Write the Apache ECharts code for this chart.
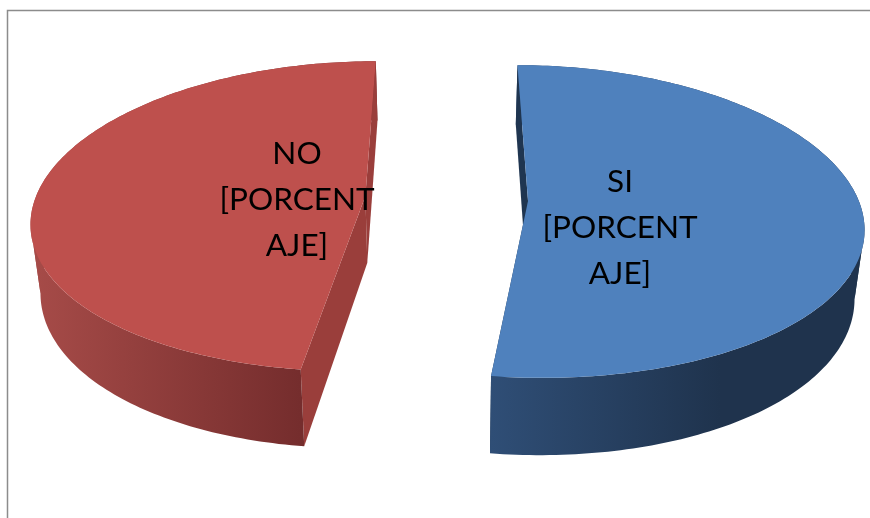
<!DOCTYPE html>
<html>
<head>
<meta charset="utf-8">
<style>html,body{margin:0;padding:0;background:#fff}#c{width:870px;height:518px}</style>
<script src="https://cdn.jsdelivr.net/npm/echarts@6/dist/echarts.min.js"></script>
</head>
<body>
<div id="c"></div>
<script>
const categories = ['SI', 'NO'];
const values = [52.1, 47.9];
const labels = ['SI\n[PORCENT\nAJE]', 'NO\n[PORCENT\nAJE]'];

const topColors = ['#4F81BD', '#BE504D'];
const cutColors = ['#1F3550', '#9A3E3B'];
const wallStops = [['#2F4E76', '#1F334D'], ['#A64B48', '#752D2D']];
const wallRange = [[491, 720], [35, 300]];
const labelAt = [[620, 228], [297, 200]];

// 3D pie projection
const cx = 446.5, cy = 198.5, Rx = 330, Ry = 153, perspX = 0.148, perspY = 0.131, explode = 81.5, depth = 67, shrink = 0.976;
const total = values.reduce((a, b) => a + b, 0);

function project(X, V, low) {
  const fx = 1 / (1 + perspX * V), fy = 1 / (1 + perspY * V);
  return [cx + X * fx * (low ? shrink : 1), cy - Ry * V * fy + (low ? depth * fy : 0)];
}

const chart = echarts.init(document.getElementById('c'), null, { renderer: 'canvas' });

function renderItem(params, api) {
  const i = params.dataIndex;
  let before = 0;
  for (let k = 0; k < i; k++) before += values[k];
  const a0 = before / total * 2 * Math.PI;
  const a1 = (before + api.value(1)) / total * 2 * Math.PI;
  const mid = (a0 + a1) / 2;
  const Xa = explode * Math.sin(mid), Va = explode * Math.cos(mid) / Rx;
  const rim = low => {
    const out = [];
    const n = Math.ceil((a1 - a0) / (Math.PI / 180));
    for (let s = 0; s <= n; s++) {
      const t = a0 + (a1 - a0) * s / n;
      out.push(project(Xa + Rx * Math.sin(t), Va + Math.cos(t), low));
    }
    return out;
  };
  const topRim = rim(false), lowRim = rim(true);
  const apex = project(Xa, Va, false), apexLow = project(Xa, Va, true);
  const last = topRim.length - 1;
  // the wall is split at the widest point of the rim so that its front and back do not cancel out
  let side = 0;
  topRim.forEach((p, k) => { if (Math.abs(p[0] - cx) > Math.abs(topRim[side][0] - cx)) side = k; });
  const strip = (from, to) => topRim.slice(from, to + 1).concat(lowRim.slice(from, to + 1).reverse());
  const poly = (points, fill) => ({ type: 'polygon', shape: { points }, style: { fill }, silent: true });
  const grad = new echarts.graphic.LinearGradient(wallRange[i][0], 0, wallRange[i][1], 0,
    [{ offset: 0, color: wallStops[i][0] }, { offset: 1, color: wallStops[i][1] }], true);
  const startIsBack = topRim[0][1] < topRim[last][1];
  const backStrip = startIsBack ? strip(0, side) : strip(side, last);
  const frontStrip = startIsBack ? strip(side, last) : strip(0, side);
  return {
    type: 'group',
    children: [
      poly(backStrip, grad),
      poly([apex, topRim[0], lowRim[0], apexLow], cutColors[i]),
      poly([apex, topRim[last], lowRim[last], apexLow], cutColors[i]),
      poly(frontStrip, grad),
      poly([apex].concat(topRim), topColors[i]),
      {
        type: 'text',
        z2: 10,
        style: {
          text: labels[i], x: labelAt[i][0], y: labelAt[i][1],
          align: 'center', verticalAlign: 'middle',
          font: '31.5px Lato', lineHeight: 46, fill: '#000'
        }
      }
    ]
  };
}

chart.setOption({
  animation: false,
  backgroundColor: '#ffffff',
  graphic: [{
    type: 'rect',
    shape: { x: 7.5, y: 10.5, width: 900, height: 600 },
    style: { fill: 'none', stroke: '#8C8C8C', lineWidth: 1.5 },
    silent: true, z: -1
  }],
  series: [{
    type: 'custom',
    coordinateSystem: 'none',
    renderItem,
    silent: true,
    data: categories.map((c, i) => ({ name: c, value: [i, values[i]] }))
  }]
});
</script>
</body>
</html>
